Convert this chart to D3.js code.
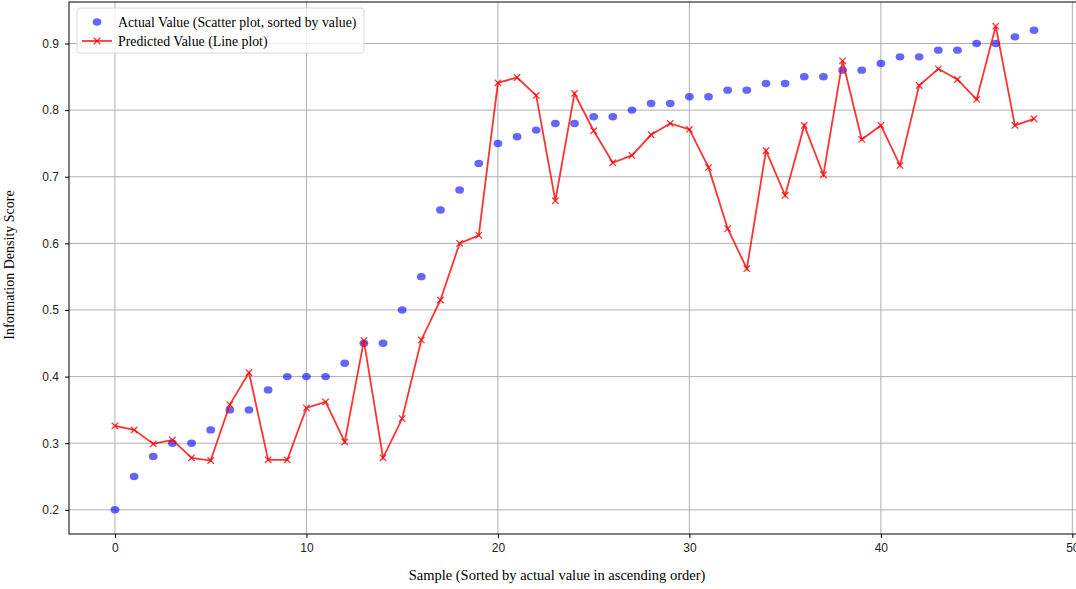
<!DOCTYPE html>
<html><head><meta charset="utf-8">
<script src="https://cdn.jsdelivr.net/npm/d3@7"></script>
<style>body{margin:0;background:#fff}svg{display:block}</style>
</head><body>
<svg id="c" width="1076" height="589"></svg>
<script>
const actual = [0.20,0.25,0.28,0.30,0.30,0.32,0.35,0.35,0.38,0.40,0.40,0.40,0.42,0.45,0.45,0.50,0.55,0.65,0.68,0.72,0.75,0.76,0.77,0.78,0.78,0.79,0.79,0.80,0.81,0.81,0.82,0.82,0.83,0.83,0.84,0.84,0.85,0.85,0.86,0.86,0.87,0.88,0.88,0.89,0.89,0.90,0.90,0.91,0.92];
const predicted = [0.326,0.320,0.299,0.305,0.278,0.274,0.358,0.406,0.275,0.275,0.353,0.362,0.302,0.454,0.278,0.337,0.455,0.515,0.600,0.612,0.841,0.849,0.822,0.664,0.825,0.769,0.721,0.732,0.763,0.780,0.771,0.714,0.622,0.562,0.739,0.672,0.777,0.703,0.874,0.756,0.777,0.717,0.837,0.862,0.846,0.816,0.926,0.777,0.787];
const xTicks = [0,10,20,30,40,50];
const yTicks = [0.2,0.3,0.4,0.5,0.6,0.7,0.8,0.9];
const labels = {x:"Sample (Sorted by actual value in ascending order)", y:"Information Density Score",
  actual:"Actual Value (Scatter plot, sorted by value)", predicted:"Predicted Value (Line plot)"};

const svg = d3.select("#c");
const L=69, R=1080, T=2, B=534;
const x = d3.scaleLinear().domain([-2.4,50.4]).range([L,R]);
const y = d3.scaleLinear().domain([0.1637,0.9623]).range([B,T]);
const serif = "'Liberation Serif','Times New Roman',serif";
const sans = "'Liberation Sans',Arial,sans-serif";

// grid
const g = svg.append("g");
g.selectAll(".gx").data(xTicks).enter().append("line")
  .attr("x1",d=>x(d)).attr("x2",d=>x(d)).attr("y1",T).attr("y2",B)
  .attr("stroke","#b0b0b0").attr("stroke-width",1);
g.selectAll(".gy").data(yTicks).enter().append("line")
  .attr("x1",L).attr("x2",R).attr("y1",d=>y(d)).attr("y2",d=>y(d))
  .attr("stroke","#b0b0b0").attr("stroke-width",1);

// axes
const xa = svg.append("g").attr("transform",`translate(0,${B})`)
  .call(d3.axisBottom(x).tickValues(xTicks).tickSize(4).tickPadding(5).tickFormat(d3.format("d")));
const ya = svg.append("g").attr("transform",`translate(${L},0)`)
  .call(d3.axisLeft(y).tickValues(yTicks).tickSize(4).tickPadding(6).tickFormat(d3.format(".1f")));
[xa,ya].forEach(a=>{
  a.select(".domain").remove();
  a.selectAll("line").attr("stroke","#000");
  a.selectAll("text").attr("font-family",sans).attr("font-size",12).attr("fill","#222");
});
// spines
svg.append("rect").attr("x",L).attr("y",T).attr("width",R-L).attr("height",B-T)
  .attr("fill","none").attr("stroke","#000").attr("stroke-width",1);

// scatter
svg.append("g").selectAll("ellipse").data(actual).enter().append("ellipse")
  .attr("cx",(d,i)=>x(i)).attr("cy",d=>y(d)).attr("rx",4.4).attr("ry",3.7)
  .attr("fill","#0000ff").attr("fill-opacity",0.6);

// line
const line = d3.line().x((d,i)=>x(i)).y(d=>y(d));
svg.append("path").datum(predicted).attr("d",line).attr("fill","none")
  .attr("stroke","#ff0000").attr("stroke-opacity",0.8).attr("stroke-width",1.8);
const m = 3.2;
svg.append("g").selectAll("path").data(predicted).enter().append("path")
  .attr("d",(d,i)=>{const cx=x(i),cy=y(d);return `M${cx-m},${cy-m}L${cx+m},${cy+m}M${cx-m},${cy+m}L${cx+m},${cy-m}`;})
  .attr("stroke","#ff0000").attr("stroke-opacity",0.8).attr("stroke-width",1.3);

// labels
svg.append("text").attr("x",557).attr("y",580).attr("text-anchor","middle")
  .attr("font-family",serif).attr("font-size",14.5).text(labels.x);
svg.append("text").attr("transform","translate(14,265) rotate(-90)").attr("text-anchor","middle")
  .attr("font-family",serif).attr("font-size",14).text(labels.y);

// legend
const lg = svg.append("g");
lg.append("rect").attr("x",77).attr("y",8).attr("width",287).attr("height",45).attr("rx",3)
  .attr("fill","#fff").attr("fill-opacity",0.8).attr("stroke","#d8d8d8");
lg.append("ellipse").attr("cx",97).attr("cy",22).attr("rx",4.4).attr("ry",3.7)
  .attr("fill","#0000ff").attr("fill-opacity",0.6);
lg.append("text").attr("x",118).attr("y",26.5).attr("font-family",serif).attr("font-size",13.8).text(labels.actual);
lg.append("line").attr("x1",82).attr("x2",112).attr("y1",41).attr("y2",41)
  .attr("stroke","#ff0000").attr("stroke-opacity",0.8).attr("stroke-width",1.8);
lg.append("path").attr("d",`M${97-m},${41-m}L${97+m},${41+m}M${97-m},${41+m}L${97+m},${41-m}`)
  .attr("stroke","#ff0000").attr("stroke-opacity",0.8).attr("stroke-width",1.3);
lg.append("text").attr("x",118).attr("y",45.5).attr("font-family",serif).attr("font-size",13.8).text(labels.predicted);
</script>
</body></html>
